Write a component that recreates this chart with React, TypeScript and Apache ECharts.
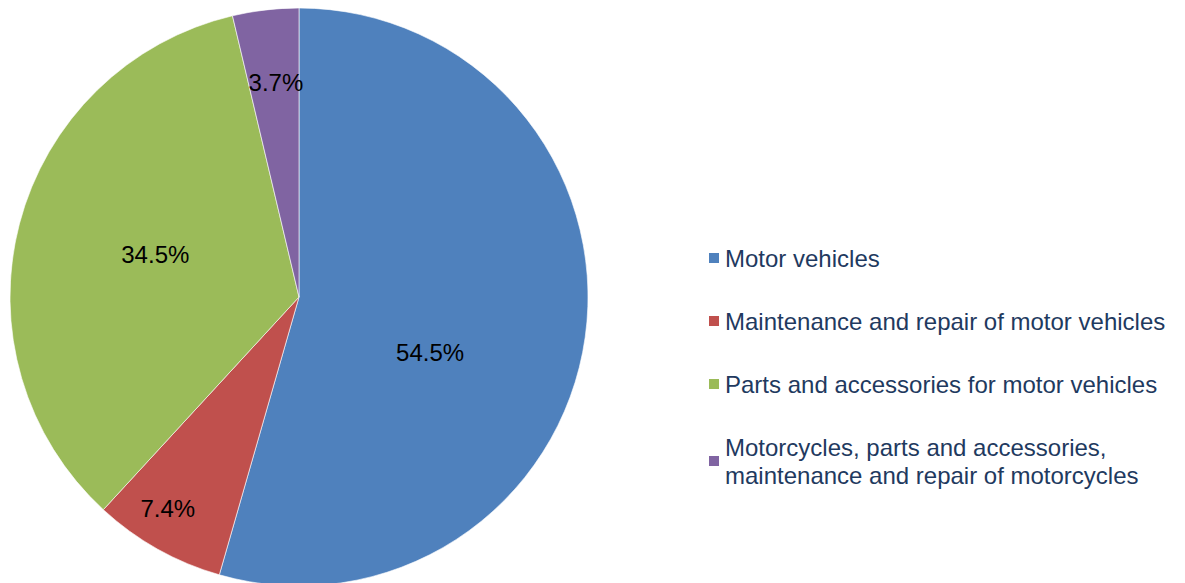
import React, { useEffect, useRef } from "react";
import * as echarts from "echarts";

const categories = [
  "Motor vehicles",
  "Maintenance and repair of motor vehicles",
  "Parts and accessories for motor vehicles",
  "Motorcycles, parts and accessories,\nmaintenance and repair of motorcycles",
];
const shares = [54.5, 7.4, 34.5, 3.7];
const colors = ["#4F81BD", "#C0504D", "#9BBB59", "#8064A2"];
// label nudges (pixels) relative to the default inside position
const labelShift: [number, number][] = [
  [-15, 35],
  [-59, 83],
  [-1, -5],
  [-6, -68],
];

export default function App() {
  const ref = useRef<HTMLDivElement>(null);
  useEffect(() => {
    if (!ref.current) return;
    const chart = echarts.init(ref.current, null, { renderer: "svg" });
    chart.setOption({
      animation: false,
      backgroundColor: "#ffffff",
      legend: {
        orient: "vertical",
        left: 707,
        top: 244,
        padding: 0,
        icon: "rect",
        itemWidth: 12,
        itemHeight: 12,
        itemGap: 35,
        textStyle: {
          fontFamily: "Liberation Sans, Arial, sans-serif",
          fontSize: 24,
          lineHeight: 28,
          color: "#1F3A5F",
        },
        data: categories,
      },
      series: [
        {
          type: "pie",
          center: [299, 297],
          radius: 289,
          startAngle: 90,
          clockwise: true,
          avoidLabelOverlap: false,
          itemStyle: { borderColor: "#ffffff", borderWidth: 0.6 },
          label: {
            show: true,
            position: "inside",
            formatter: (p: any) => `${shares[p.dataIndex].toFixed(1)}%`,
            fontFamily: "Liberation Sans, Arial, sans-serif",
            fontSize: 24,
            color: "#000000",
          },
          labelLayout: (p: any) => ({
            dx: labelShift[p.dataIndex][0],
            dy: labelShift[p.dataIndex][1],
          }),
          labelLine: { show: false },
          emphasis: { disabled: true },
          data: categories.map((name, i) => ({
            name,
            value: shares[i],
            itemStyle: { color: colors[i] },
          })),
        },
      ],
    });
    return () => chart.dispose();
  }, []);
  return <div ref={ref} style={{ width: 1185, height: 583, position: "absolute", left: 0, top: 0 }} />;
}
